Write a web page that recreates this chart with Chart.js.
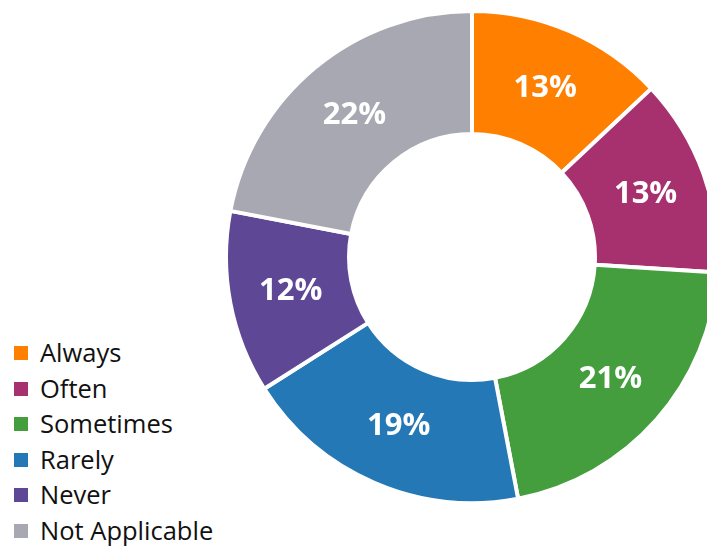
<!DOCTYPE html>
<html lang="en">
<head>
    <meta charset="UTF-8">
    <title>Response distribution</title>
    <script src="https://cdn.jsdelivr.net/npm/chart.js"></script>
    <style>
        html, body {
            margin: 0;
            padding: 0;
            width: 707px;
            height: 548px;
            overflow: hidden;
            background: #ffffff;
            font-family: "Open Sans", sans-serif;
        }
        .chart-box {
            position: absolute;
            left: 224px;
            top: 9px;
            width: 496px;
            height: 496px;
        }
        #legend {
            position: absolute;
            left: 14px;
            top: 335px;
            margin: 0;
            padding: 0;
            list-style: none;
        }
        #legend li {
            height: 35.5px;
            line-height: 35.5px;
            font-size: 25.5px;
            color: #111;
            white-space: nowrap;
        }
        #legend span {
            display: inline-block;
            width: 14px;
            height: 14px;
            margin-right: 12px;
            vertical-align: 2px;
        }
    </style>
</head>
<body>
    <div class="chart-box">
        <canvas id="donut" width="496" height="496"></canvas>
    </div>
    <ul id="legend"></ul>

    <script>
        // datos del grafico
        const categorias = ['Always', 'Often', 'Sometimes', 'Rarely', 'Never', 'Not Applicable'];
        const porcentajes = [13, 13, 21, 19, 12, 22];
        const colores = ['#FF7F00', '#A6316E', '#449E3E', '#2378B5', '#5E4895', '#A8A8B2'];

        // etiquetas blancas en el centro de cada porcion
        const etiquetas = {
            id: 'etiquetas',
            afterDatasetsDraw(chart) {
                const ctx = chart.ctx;
                const meta = chart.getDatasetMeta(0);
                ctx.save();
                ctx.fillStyle = '#ffffff';
                ctx.font = 'bold 31px "Open Sans", sans-serif';
                ctx.textAlign = 'center';
                ctx.textBaseline = 'middle';
                meta.data.forEach(function (arc, i) {
                    const p = arc.tooltipPosition();
                    ctx.fillText(porcentajes[i] + '%', p.x, p.y);
                });
                ctx.restore();
            }
        };

        const ctx1 = document.getElementById('donut').getContext('2d');
        const donut = new Chart(ctx1, {
            type: 'doughnut',
            data: {
                labels: categorias,
                datasets: [{
                    data: porcentajes,
                    backgroundColor: colores,
                    borderColor: '#ffffff',
                    borderWidth: 4
                }]
            },
            options: {
                responsive: false,
                animation: false,
                cutout: '50%',
                layout: { padding: 0 },
                plugins: {
                    legend: { display: false },
                    tooltip: { enabled: false }
                }
            },
            plugins: [etiquetas]
        });

        // leyenda en html
        const lista = document.getElementById('legend');
        categorias.forEach(function (c, i) {
            const li = document.createElement('li');
            li.innerHTML = '<span style="background:' + colores[i] + '"></span>' + c;
            lista.appendChild(li);
        });
    </script>
</body>
</html>
